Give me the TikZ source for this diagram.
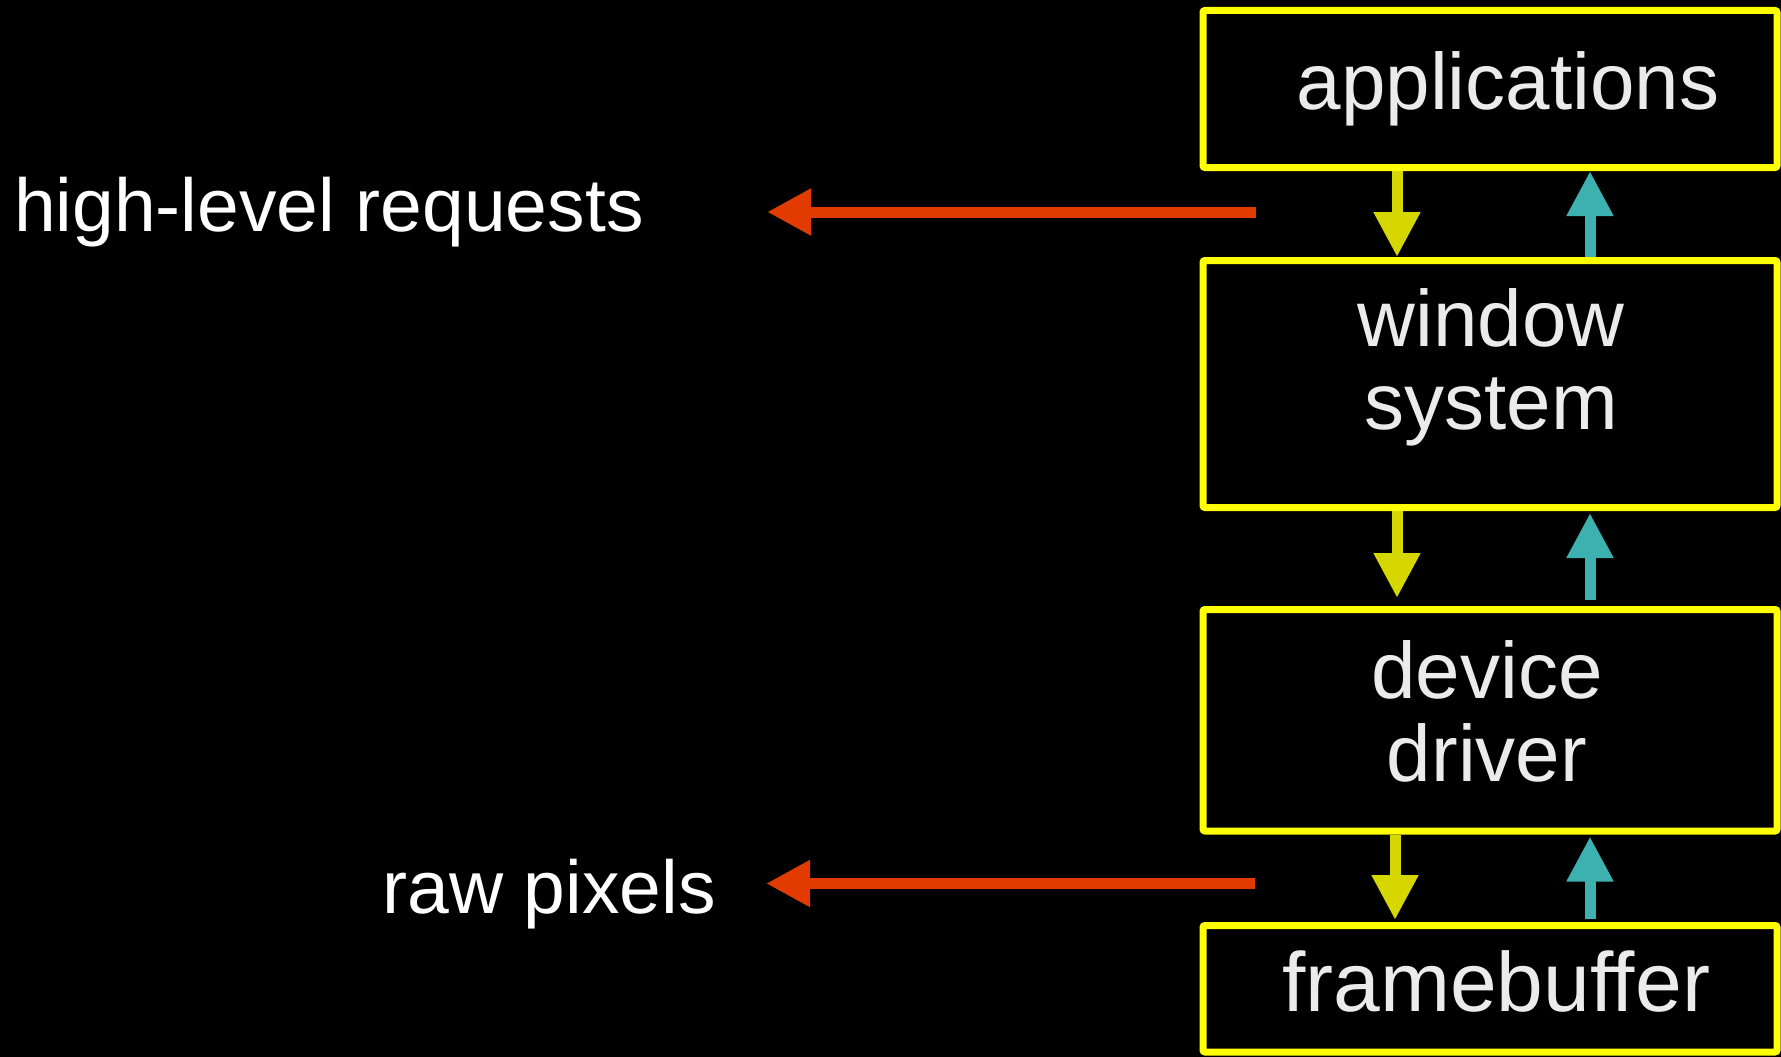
\documentclass[tikz,border=0pt]{standalone}
\usepackage{fontspec}
\setmainfont{Liberation Sans}
\usetikzlibrary{arrows.meta,calc}
\definecolor{boxyellow}{HTML}{FFFF00}
\definecolor{downyellow}{HTML}{D7D700}
\definecolor{upcyan}{HTML}{3DB0B0}
\definecolor{reqred}{HTML}{E23B00}
\definecolor{boxtext}{HTML}{EBEBEB}
\tikzset{
  layerbox/.style={draw=boxyellow, line width=7pt, rounded corners=2pt, minimum width=574pt, inner sep=0pt},
  boxlabel/.style={text=boxtext, font=\fontsize{80}{96}\selectfont, anchor=base, inner sep=0pt},
  sidelabel/.style={text=white, font=\fontsize{75}{90}\selectfont, anchor=base, inner sep=0pt},
  downarrow/.style={draw=downyellow, line width=11pt, -{Triangle[length=45pt,width=44pt]}},
  uparrow/.style={draw=upcyan, line width=11pt, -{Triangle[length=45pt,width=44pt]}},
  redarrow/.style={draw=reqred, line width=11pt, -{Triangle[length=44pt,width=44pt]}}
}
\begin{document}
\begin{tikzpicture}[x=1pt,y=-1pt]
\fill[black] (0,0) rectangle (1781,1057);
\useasboundingbox (0,0) rectangle (1781,1057);
% boxes
\node[layerbox, minimum height=157pt] (app) at (1490,89) {};
\node[layerbox, minimum height=247pt] (win) at (1490,384) {};
\node[layerbox, minimum height=221.5pt] (dev) at (1490,720.25) {};
\node[layerbox, minimum height=126.5pt] (fb) at (1490,988.75) {};
% box texts
\node[boxlabel] (appT) at (1508,110) {applications};
\node[boxlabel] (winA) at (1491,346) {window};
\node[boxlabel] (winB) at (1491,429) {system};
\node[boxlabel] (devA) at (1487,698) {device};
\node[boxlabel] (devB) at (1487,781) {driver};
\node[boxlabel, font=\fontsize{84}{96}\selectfont] (fbT) at (1496,1011) {framebuffer};
% side labels
\node[sidelabel, anchor=base west] (hl) at (14,231) {high-level requests};
\node[sidelabel, anchor=base east] (raw) at (716,913) {raw pixels};
% arrow x positions
\coordinate (xd) at (1397,0);
\coordinate (xu) at (1590,0);
% down arrows
\draw[downarrow] (app.south -| xd) -- ($(win.north -| xd)+(0,0)$);
\draw[downarrow] (win.south -| xd) -- ($(dev.north -| xd)+(0,-8)$);
\draw[downarrow] ($(dev.south -| xd)+(-2,0)$) -- ($(fb.north -| xd)+(-2,-2)$);
% up arrows
\draw[uparrow] (win.north -| xu) -- ($(app.south -| xu)+(0,0)$);
\draw[uparrow] ($(dev.north -| xu)+(0,-6)$) -- ($(win.south -| xu)+(0,2)$);
\draw[uparrow] ($(fb.north -| xu)+(0,-3)$) -- ($(dev.south -| xu)+(0,2)$);
% red arrows
\coordinate (r1s) at (1256,212);
\coordinate (r1e) at (767,212);
\coordinate (r2s) at (1255,883.5);
\coordinate (r2e) at (766,883.5);
\draw[redarrow] (r1s) -- (r1e);
\draw[redarrow] (r2s) -- (r2e);
\end{tikzpicture}
\end{document}
